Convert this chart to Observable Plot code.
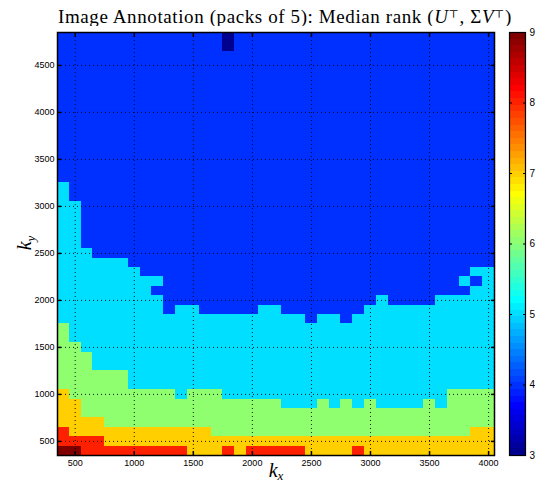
<!DOCTYPE html>
<html><head><meta charset="utf-8">
<script src="https://cdn.jsdelivr.net/npm/d3@7"></script>
<script src="https://cdn.jsdelivr.net/npm/@observablehq/plot@0.6"></script>
<style>
body{margin:0;background:#fff;overflow:hidden;}
#wrap{position:relative;width:545px;height:486px;}
#title{position:absolute;left:285px;top:0;transform:translateX(-50%);white-space:nowrap;font-family:"Liberation Serif","DejaVu Serif",serif;font-size:19px;letter-spacing:0.6px;line-height:19px;padding-top:7px;color:#000;}
#title sup{font-size:11px;vertical-align:top;position:relative;top:-2px;}
#main{position:absolute;left:0;top:26px;}
#cb{position:absolute;left:0;top:26px;}
</style></head><body>
<div id="wrap">
<div id="title">Image Annotation (packs of 5): Median rank (<i>U</i><sup>⊤</sup>, Σ<i>V</i><sup>⊤</sup>)</div>
<div id="main"></div><div id="cb"></div>
</div>
<script>
// k_x column centres
const kx = [400,500,600,700,800,900,1000,1100,1200,1300,1400,1500,1600,1700,1800,1900,2000,2100,2200,2300,2400,2500,2600,2700,2800,2900,3000,3100,3200,3300,3400,3500,3600,3700,3800,3900,4000];
// k_y row centres
const ky = [400,500,600,700,800,900,1000,1100,1200,1300,1400,1500,1600,1700,1800,1900,2000,2100,2200,2300,2400,2500,2600,2700,2800,2900,3000,3100,3200,3300,3400,3500,3600,3700,3800,3900,4000,4100,4200,4300,4400,4500,4600,4700,4800];
// highest k_y (per column) whose median rank is at least 9, 8, 7, 6, 5 (otherwise 4)
const top9 = [400,400,300,300,300,300,300,300,300,300,300,300,300,300,300,300,300,300,300,300,300,300,300,300,300,300,300,300,300,300,300,300,300,300,300,300,300];
const top8 = [600,500,500,500,400,400,400,400,400,400,400,300,300,300,400,300,400,400,400,400,400,300,300,300,300,400,300,300,300,300,300,300,300,300,300,300,300];
const top7 = [1000,900,700,700,600,600,600,600,600,600,600,600,600,500,500,500,500,500,500,500,500,500,500,500,500,500,500,500,500,500,500,500,500,500,500,600,600];
const top6 = [1700,1500,1400,1200,1200,1200,1000,1000,1000,1000,900,1000,1000,1000,900,900,900,900,900,800,800,800,900,800,900,800,900,800,800,800,800,900,800,1000,1000,1000,1000];
const top5 = [3200,3000,2500,2400,2400,2400,2300,2200,2200,1800,1900,1900,1800,1800,1800,1800,1800,1900,1900,1800,1800,1700,1800,1800,1700,1800,1900,2000,1900,1900,1900,1900,2000,2000,2000,2300,2300];
// isolated cells
const exceptions = [
  {kx:1200, ky:2100, v:4},
  {kx:3800, ky:2200, v:5},
  {kx:3900, ky:2200, v:4},
  {kx:1800, ky:4700, v:3},
  {kx:1800, ky:4800, v:3}
];
const xTicks = [500,1000,1500,2000,2500,3000,3500,4000];
const yTicks = [500,1000,1500,2000,2500,3000,3500,4000,4500];
const cbTicks = [3,4,5,6,7,8,9];

const cells = [];
kx.forEach((x, i) => {
  for (const y of ky) {
    let v = 4;
    if (y <= top5[i]) v = 5;
    if (y <= top6[i]) v = 6;
    if (y <= top7[i]) v = 7;
    if (y <= top8[i]) v = 8;
    if (y <= top9[i]) v = 9;
    cells.push({kx: x, ky: y, v});
  }
});
for (const e of exceptions) {
  const c = cells.find(d => d.kx === e.kx && d.ky === e.ky);
  if (c) c.v = e.v;
}

// MATLAB jet(64)
function uVal(k){ return (k<1||k>47) ? 0 : k<=16 ? k/16 : k<=31 ? 1 : (48-k)/16; }
function jetRow(r){ // r: 1..64
  const R = uVal(r-24), G = uVal(r-8), B = uVal(r+8);
  return d3.rgb(Math.round(R*255), Math.round(G*255), Math.round(B*255)).formatHex();
}
const jetInterp = t => jetRow(Math.min(64, Math.floor(t*64)+1));
const colorOpt = {type:"linear", domain:[3,9], interpolate: jetInterp};
const plain = d => String(d);

const main = Plot.plot({
  width: 545, height: 460,
  marginLeft: 57, marginRight: 51, marginTop: 6, marginBottom: 31,
  x: {domain:[350,4050]},
  y: {domain:[350,4850]},
  color: colorOpt,
  style: {fontFamily:"'Liberation Sans', Arial, sans-serif", fontSize:"9px", color:"#000", background:"white"},
  marks: [
    Plot.rect(cells, {x1: d => d.kx - 50, x2: d => d.kx + 50, y1: d => d.ky - 50, y2: d => d.ky + 50, fill: "v", shapeRendering: "crispEdges"}),
    Plot.gridX(xTicks, {stroke:"#000", strokeOpacity:0.9, strokeDasharray:"1,3"}),
    Plot.gridY(yTicks, {stroke:"#000", strokeOpacity:0.9, strokeDasharray:"1,3"}),
    Plot.axisX(xTicks, {anchor:"bottom", tickSize:-4, tickPadding:8, tickFormat: plain, label:null, strokeWidth:1.5}),
    Plot.axisX(xTicks, {anchor:"top", tickSize:-4, fill:"none", label:null, strokeWidth:1.5}),
    Plot.axisY(yTicks, {anchor:"left", tickSize:-4, tickPadding:7, tickFormat: plain, label:null, strokeWidth:1.5}),
    Plot.axisY(yTicks, {anchor:"right", tickSize:-4, fill:"none", label:null, strokeWidth:1.5}),
    Plot.frame({stroke:"#000", strokeWidth:1.5})
  ]
});
document.getElementById("main").appendChild(main);

const svg = d3.select(main);
const lx = svg.append("text").attr("x", 276).attr("y", 451).attr("text-anchor","middle")
  .attr("font-family","'Liberation Serif', serif").attr("font-size", 20).attr("font-style","italic").attr("fill","#000");
lx.append("tspan").text("k");
lx.append("tspan").attr("font-size", 13).attr("dy", 3).text("x");
const ly = svg.append("text").attr("transform","translate(31,217) rotate(-90)").attr("text-anchor","middle")
  .attr("font-family","'Liberation Serif', serif").attr("font-size", 20).attr("font-style","italic").attr("fill","#000");
ly.append("tspan").text("k");
ly.append("tspan").attr("font-size", 13).attr("dy", 4).text("y");

const levels = d3.range(64).map(i => ({lo: 3 + i*6/64, hi: 3 + (i+1)*6/64}));
const cb = Plot.plot({
  width: 545, height: 460,
  marginLeft: 509, marginRight: 20, marginTop: 6, marginBottom: 31,
  x: {domain:[0,1], axis:null},
  y: {domain:[3,9]},
  color: colorOpt,
  style: {fontFamily:"'Liberation Sans', Arial, sans-serif", fontSize:"10px", color:"#000", background:"transparent"},
  marks: [
    Plot.rect(levels, {y1:"lo", y2:"hi", fill: d => (d.lo + d.hi)/2, shapeRendering:"crispEdges"}),
    Plot.axisY(cbTicks, {anchor:"right", tickSize:-3, tickPadding:7, tickFormat: plain, label:null}),
    Plot.axisY(cbTicks, {anchor:"left", tickSize:-3, fill:"none", label:null}),
    Plot.frame({stroke:"#000", strokeWidth:1.2})
  ]
});
document.getElementById("cb").appendChild(cb);
</script>
</body></html>
